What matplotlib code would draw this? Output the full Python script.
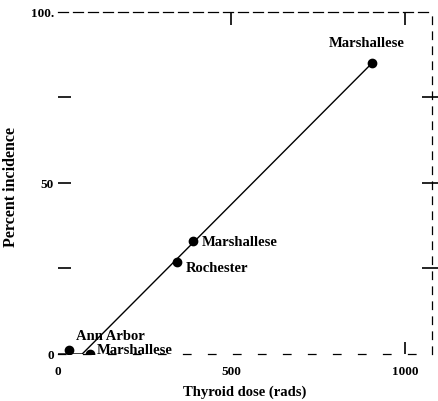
import matplotlib.pyplot as plt

plt.rcParams['font.family'] = ['Liberation Serif', 'DejaVu Serif']
plt.rcParams['font.weight'] = 'bold'

# observed groups: thyroid dose (rads) vs percent incidence
groups = ["Marshallese", "Marshallese", "Rochester", "Ann Arbor", "Marshallese"]
dose = [905, 390, 343, 32, 92]
incidence = [85, 33, 27, 1.2, 0]

# dose-response line drawn through the data
line_dose = [0, 70, 905]
line_inc = [0, 0, 85]

# label placement (offset points, alignment)
label_pos = [((-4, 10), "center", "bottom"),
             ((6, 0), "left", "center"),
             ((6, -4), "left", "center"),
             ((5, 10), "left", "center"),
             ((5, 3), "left", "center")]

fig = plt.figure(figsize=(4.39, 4.02), dpi=100)
ax = fig.add_axes([0.132, 0.117, 0.852, 0.851])

ax.plot(line_dose, line_inc, color="black", lw=1.0, zorder=2)
ax.plot(dose, incidence, "o", color="black", ms=6, zorder=3)

for name, x, y, (off, ha, va) in zip(groups, dose, incidence, label_pos):
    ax.annotate(name, (x, y), xytext=off, textcoords="offset points",
                ha=ha, va=va, fontsize=10.5, fontweight="bold")

ax.set_xlim(0, 1078)
ax.set_ylim(0, 100)
ax.set_xticks([0, 500, 1000])
ax.set_xticklabels(["0", "500", "1000"])
ax.set_yticks([0, 50, 100])
ax.set_yticklabels(["0", "50", "100."])
ax.set_yticks([25, 75], minor=True)
ax.tick_params(axis="both", which="both", direction="in", length=9,
               width=1.2, labelsize=9.5, top=True, right=False)
ax.tick_params(axis="x", pad=8)
ax.tick_params(axis="y", which="both", pad=3)

# right-hand ticks cross the frame
sec = ax.secondary_yaxis("right")
sec.set_yticks([25, 50, 75])
sec.tick_params(direction="inout", length=14, width=1.2, labelright=False)
sec.spines["right"].set_visible(False)

# scanned original: some ticks are not visible
xt = ax.xaxis.get_major_ticks()
xt[0].tick1line.set_visible(False)
xt[0].tick2line.set_visible(False)
xt[1].tick1line.set_visible(False)
yt = ax.yaxis.get_major_ticks()
yt[0].tick1line.set_visible(False)
yt[2].tick1line.set_visible(False)

ax.spines["left"].set_visible(False)
ax.spines["top"].set_linestyle((0, (8, 4)))
ax.spines["right"].set_linestyle((0, (6, 6)))
ax.spines["bottom"].set_linestyle((0, (6, 14)))
for s in ax.spines.values():
    s.set_linewidth(0.9)

ax.set_xlabel("Thyroid dose (rads)", fontsize=10.5, fontweight="bold", labelpad=5)
ax.set_ylabel("Percent incidence", fontsize=11.5, fontweight="bold")
ax.yaxis.set_label_coords(-0.105, 0.49)

fig.savefig("out.png", dpi=100)
